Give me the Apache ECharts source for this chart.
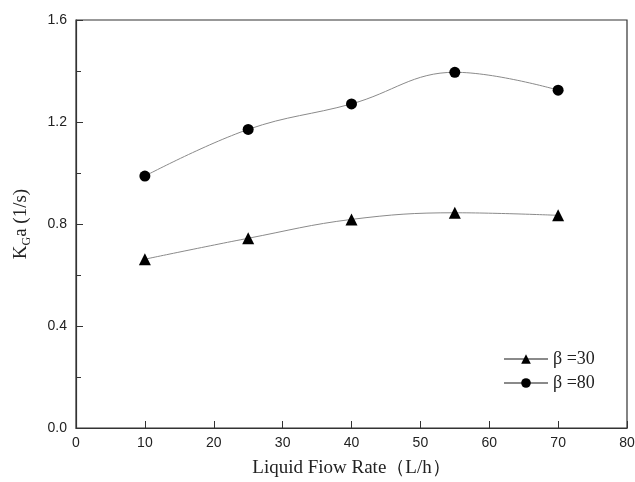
<!DOCTYPE html>
<html>
<head>
<meta charset="utf-8">
<script src="https://cdn.jsdelivr.net/npm/echarts@6/dist/echarts.min.js"></script>
<style>
  html, body { margin: 0; padding: 0; background: #fff; }
  #chart { width: 635px; height: 482px; }
</style>
</head>
<body>
<div id="chart"></div>
<script>
// flow rate (L/h)
const flowRate = [10, 25, 40, 55, 70];
// KGa values
const beta30 = [0.662, 0.744, 0.818, 0.844, 0.834];
const beta80 = [0.988, 1.171, 1.271, 1.395, 1.325];
const seriesNames = ['\u03b2 =30', '\u03b2 =80'];

const pairs = (ys) => flowRate.map((x, i) => [x, ys[i]]);

const chart = echarts.init(document.getElementById('chart'));

const axisColor = '#333';
const lineStyle = { color: '#8a8a8a', width: 1 };

chart.setOption({
  animation: false,
  grid: {
    left: 76, right: 8, top: 20, bottom: 54,
    outerBoundsMode: 'none', containLabel: false,
    show: true, borderColor: axisColor, borderWidth: 1.2
  },
  legend: {
    orient: 'vertical',
    left: 498, top: 345,
    itemWidth: 44, itemHeight: 12, itemGap: 6,
    textStyle: { fontFamily: 'Liberation Serif', fontSize: 18, color: '#222' },
    data: seriesNames
  },
  xAxis: {
    type: 'value', min: 0, max: 80, interval: 10,
    name: 'Liquid Fiow Rate\uff08L/h\uff09',
    nameLocation: 'middle', nameGap: 31,
    nameTextStyle: { fontFamily: 'Liberation Serif', fontSize: 19, color: '#222' },
    axisLine: { lineStyle: { color: axisColor, width: 1.2 } },
    axisTick: { inside: true, length: 7, lineStyle: { color: axisColor } },
    axisLabel: { fontFamily: 'Liberation Sans', fontSize: 14, color: '#222', margin: 8 },
    splitLine: { show: false }
  },
  yAxis: {
    type: 'value', min: 0, max: 1.6, interval: 0.4,
    name: '{a|K}{s|G}{a|a (1/s)}',
    nameLocation: 'middle', nameGap: 43, nameRotate: 90,
    nameTextStyle: {
      rich: {
        a: { fontFamily: 'Liberation Serif', fontSize: 19, color: '#222' },
        s: { fontFamily: 'Liberation Serif', fontSize: 12, color: '#222', padding: [12, 0, 0, 0] }
      }
    },
    axisLine: { lineStyle: { color: axisColor, width: 1.2 } },
    axisTick: { inside: true, length: 7, lineStyle: { color: axisColor } },
    minorTick: { show: true, splitNumber: 2, length: 5, lineStyle: { color: axisColor } },
    axisLabel: {
      fontFamily: 'Liberation Sans', fontSize: 14, color: '#222', margin: 9,
      formatter: (v) => v.toFixed(1)
    },
    splitLine: { show: false }
  },
  series: [
    {
      name: seriesNames[0], type: 'line', data: pairs(beta30),
      smooth: 0.4, symbol: 'triangle', symbolSize: 12,
      itemStyle: { color: '#000' }, lineStyle: lineStyle
    },
    {
      name: seriesNames[1], type: 'line', data: pairs(beta80),
      smooth: 0.4, symbol: 'circle', symbolSize: 11,
      itemStyle: { color: '#000' }, lineStyle: lineStyle
    }
  ]
});
</script>
</body>
</html>
